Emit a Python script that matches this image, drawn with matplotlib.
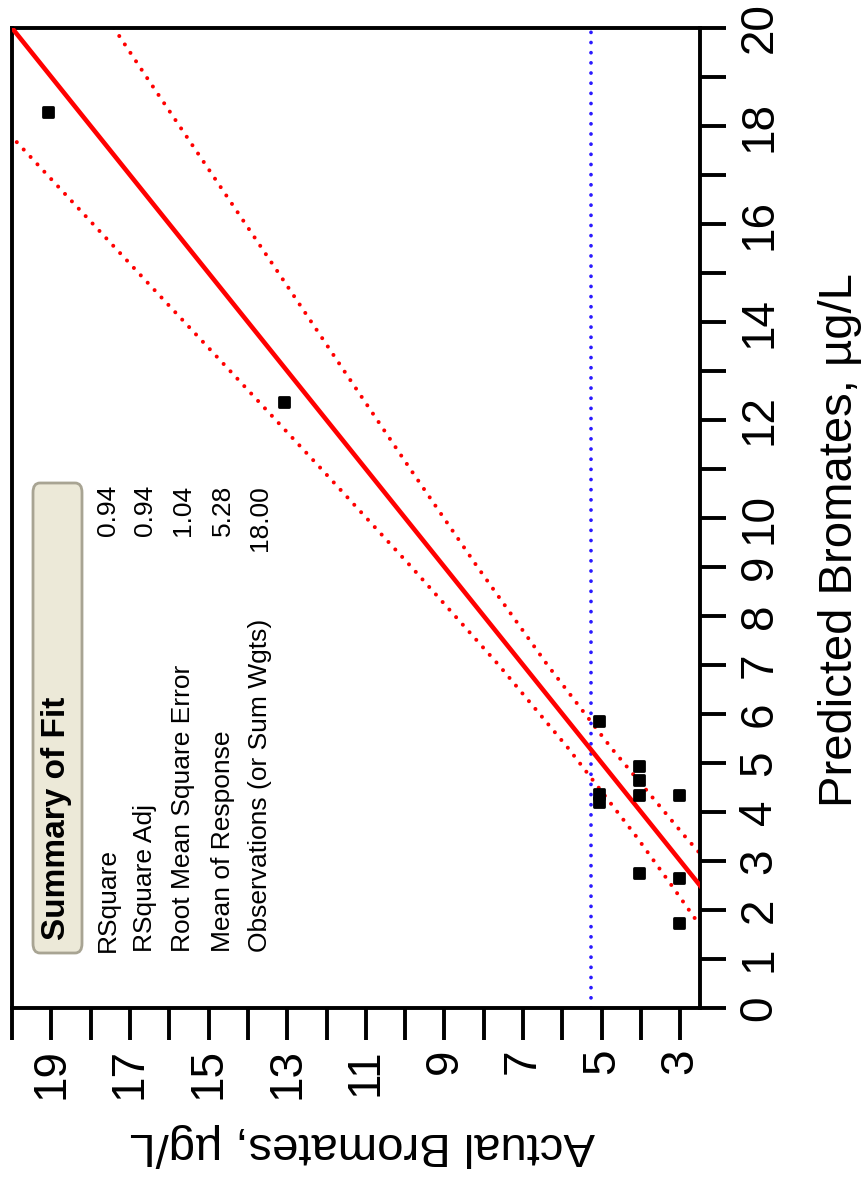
import matplotlib
matplotlib.use("Agg")
import matplotlib.pyplot as plt
from matplotlib.markers import MarkerStyle
from matplotlib.patches import FancyBboxPatch

plt.rcParams['font.family'] = ['Liberation Sans', 'DejaVu Sans']

# ---- data ----
actual = [19.08, 13.09, 5.07, 5.07, 5.07, 4.05, 4.05, 4.05, 3.03, 4.05, 3.03, 3.03]
predicted = [18.29, 12.37, 5.86, 4.36, 4.21, 4.94, 4.65, 4.35, 4.35, 2.75, 2.65, 1.74]

fit_line = [0, 20]
mean_response = 5.28

band_pred = [1.5, 2.5, 3.5, 5.3, 7, 9, 11, 13, 15, 17, 19, 20.5]
band_upper = [2.34, 3.22, 4.12, 5.85, 7.62, 9.84, 12.13, 14.45, 16.78, 19.1, 21.42, 23.18]
band_lower = [0.66, 1.78, 2.88, 4.75, 6.38, 8.16, 9.87, 11.55, 13.22, 14.9, 16.58, 17.82]

actual_ticks = list(range(3, 21))
actual_labels = [str(v) if (v % 2 == 1) else '' for v in actual_ticks]
pred_ticks = list(range(0, 21))
pred_labels = [str(v) if (v <= 10 or v % 2 == 0) else '' for v in pred_ticks]

summary_title = "Summary of Fit"
summary_rows = ["RSquare", "RSquare Adj", "Root Mean Square Error",
                "Mean of Response", "Observations (or Sum Wgts)"]
summary_vals = ["0.94", "0.94", "1.04", "5.28", "18.00"]

x_label = "Actual Bromates, µg/L"
y_label = "Predicted Bromates, µg/L"

# ---- figure ----
W, H = 865, 1181
fig = plt.figure(figsize=(W / 100, H / 100), dpi=100)
L, R, T, B = 12, 700, 28, 1008
ax = fig.add_axes([L / W, 1 - B / H, (R - L) / W, (B - T) / H])

ax.set_xlim(20, 2.5)
ax.set_ylim(0, 20)

dot = (0, (0.01, 2.5))
ax.plot(fit_line, fit_line, color='#ff0000', lw=3.3, zorder=3)
ax.plot(band_upper, band_pred, color='#ff0000', lw=2.9, linestyle=dot,
        dash_capstyle='round', zorder=2)
ax.plot(band_lower, band_pred, color='#ff0000', lw=2.9, linestyle=dot,
        dash_capstyle='round', zorder=2)
ax.axvline(mean_response, color='#2a1aff', lw=2.7, linestyle=(0, (0.01, 2.7)),
           dash_capstyle='round', zorder=2)

ax.plot(actual, predicted, linestyle='none',
        marker=MarkerStyle('s', joinstyle='round'), ms=7.5, mew=2,
        mfc='black', mec='black', zorder=5)

for s in ax.spines.values():
    s.set_linewidth(2.8)
    s.set_color('black')

ax.set_xticks(actual_ticks)
ax.set_xticklabels(actual_labels, rotation=90, fontsize=33)
ax.tick_params(axis='x', direction='out', length=23, width=2.8, pad=6)

ax.yaxis.tick_right()
ax.set_yticks(pred_ticks)
ax.set_yticklabels(pred_labels, rotation=90, fontsize=33)
ax.tick_params(axis='y', direction='out', length=19, width=2.8, pad=8)
for t in ax.get_yticklabels():
    t.set_va('center')

# axis titles
fig.text(362 / W, 1 - 1145 / H, x_label, rotation=180, fontsize=34,
         ha='center', va='center')
fig.text(840 / W, 1 - 540 / H, y_label, rotation=90, fontsize=34,
         ha='center', va='center')

# summary of fit box
bx0, bx1, by0, by1 = 33, 82, 483, 953
box = FancyBboxPatch((bx0 / W, 1 - by1 / H), (bx1 - bx0) / W, (by1 - by0) / H,
                     boxstyle="round,pad=0,rounding_size=0.008",
                     transform=fig.transFigure, facecolor='#ece9d8',
                     edgecolor='#a8a493', lw=2, zorder=6)
fig.add_artist(box)
fig.text(57 / W, 1 - 940 / H, summary_title, rotation=90, fontsize=24,
         fontweight='bold', ha='center', va='bottom', zorder=7)
row_x = [108, 145, 183, 223, 260]
for xx, lab, val in zip(row_x, summary_rows, summary_vals):
    fig.text(xx / W, 1 - 952 / H, lab, rotation=90, fontsize=19,
             ha='center', va='bottom', zorder=7)
    fig.text(xx / W, 1 - 485 / H, val, rotation=90, fontsize=19,
             ha='center', va='top', zorder=7)

fig.savefig('out.png', dpi=100)
